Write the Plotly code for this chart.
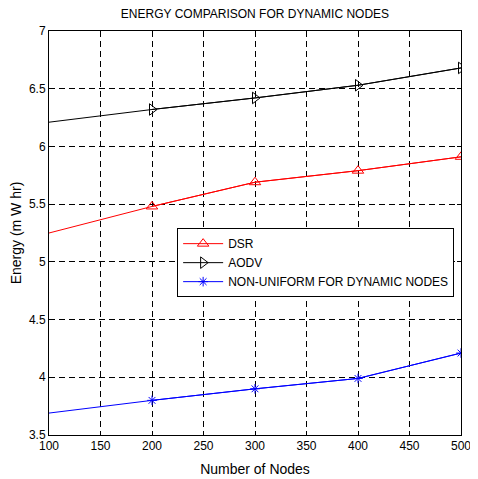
import plotly.graph_objects as go

nodes = [100, 200, 300, 400, 500]
dsr = [5.25, 5.48, 5.69, 5.79, 5.91]
aodv = [6.21, 6.32, 6.42, 6.53, 6.68]
nonuniform = [3.69, 3.80, 3.90, 3.99, 4.21]

x_ticks = [100, 150, 200, 250, 300, 350, 400, 450, 500]
y_ticks = [3.5, 4, 4.5, 5, 5.5, 6, 6.5, 7]
y_tick_text = ["3.5", "4", "4.5", "5", "5.5", "6", "6.5", "7"]

series = [
    ("DSR", dsr, "red", "triangle-up-open", 10),
    ("AODV", aodv, "black", "triangle-right-open", 10),
    ("NON-UNIFORM FOR DYNAMIC NODES", nonuniform, "blue", "asterisk-open", 8),
]

fig = go.Figure()
for name, vals, color, sym, size in series:
    # full line (first point has no marker)
    fig.add_trace(go.Scatter(x=nodes, y=vals, mode="lines",
                             line=dict(color=color, width=1),
                             showlegend=False, hoverinfo="skip"))
    fig.add_trace(go.Scatter(x=nodes[1:], y=vals[1:], mode="lines+markers", name=name,
                             line=dict(color=color, width=1),
                             marker=dict(symbol=sym, size=size, color=color,
                                         line=dict(color=color, width=1))))

font = dict(family="Liberation Sans, Arial, sans-serif", size=12, color="black")

W, H = 470, 471
fig.update_layout(
    width=W, height=H,
    margin=dict(l=41, r=17, t=23, b=44, autoexpand=False),
    paper_bgcolor="white", plot_bgcolor="white",
    font=font,
    title=dict(text="ENERGY COMPARISON FOR DYNAMIC NODES", x=(41 + 453) / 2 / W, xanchor="center",
               y=1 - 6 / H, yanchor="middle", font=dict(size=12)),
    xaxis=dict(range=[100, 500], tickvals=x_ticks, ticktext=[str(v) for v in x_ticks],
               showgrid=True, gridcolor="black", griddash="6px,4px", gridwidth=1,
               showline=True, linecolor="black", linewidth=1, mirror="allticks",
               ticks="inside", ticklen=4, tickcolor="black", zeroline=False, automargin=False,
               title=dict(text="Number of Nodes", standoff=11), tickfont=dict(size=12)),
    yaxis=dict(range=[3.5, 7], tickvals=y_ticks, ticktext=y_tick_text,
               showgrid=True, gridcolor="black", griddash="6px,4px", gridwidth=1,
               showline=True, linecolor="black", linewidth=1, mirror="allticks",
               ticks="inside", ticklen=4, tickcolor="black", zeroline=False, automargin=False,
               title=dict(text="Energy (m W hr)", standoff=9), tickfont=dict(size=12)),
    legend=dict(x=0.311, y=0.512, xanchor="left", yanchor="top",
                bgcolor="white", bordercolor="black", borderwidth=1,
                font=dict(size=12), tracegroupgap=0, itemwidth=40),
)

fig.write_html("out.html")
